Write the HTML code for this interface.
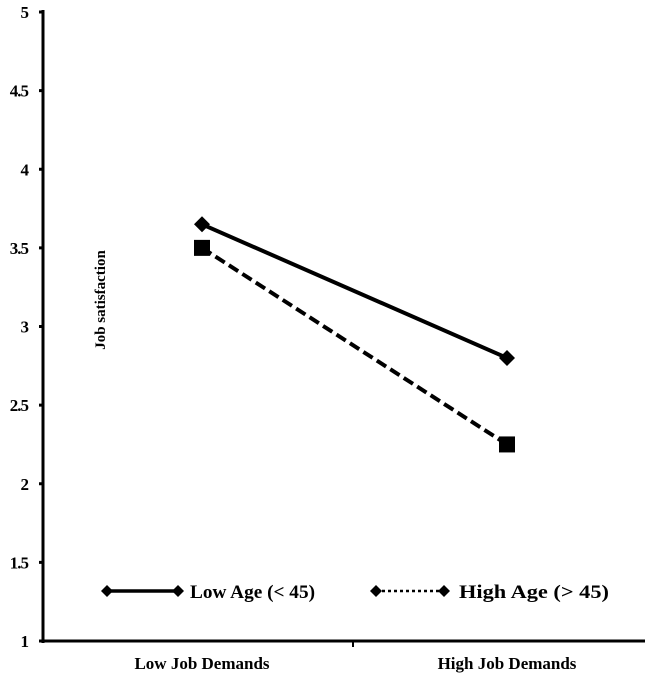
<!DOCTYPE html>
<html><head><meta charset="utf-8"><style>
body{margin:0;background:#fff}
svg{display:block;font-family:"Liberation Serif",serif;font-weight:bold}
</style></head><body>
<svg id="chart" width="645" height="684"></svg>
<script>
const categories=["Low Job Demands","High Job Demands"];
const lowAge=[3.65,2.8];
const highAge=[3.5,2.25];
const yTicks=[1,1.5,2,2.5,3,3.5,4,4.5,5];
const yTickLabels=["1","1.5","2","2.5","3","3.5","4","4.5","5"];
const NS="http://www.w3.org/2000/svg";
const svg=document.getElementById('chart');
const y=v=>641-(v-1)*157.25;
const xCat=[202,507];
const x=i=>xCat[i];
function mk(t,a,p){const e=document.createElementNS(NS,t);for(const k in a)e.setAttribute(k,a[k]);(p||svg).appendChild(e);return e;}
let e;
e=mk('line',{x1:43,y1:10,x2:43,y2:643,stroke:'#000','stroke-width':3});


e=mk('line',{x1:41,y1:641,x2:645,y2:641,stroke:'#000','stroke-width':3});


e=mk('line',{x1:353,y1:641,x2:353,y2:647,stroke:'#000','stroke-width':2});


yTicks.forEach((v,i)=>{
 e=mk('line',{x1:39,y1:y(v),x2:43,y2:y(v),stroke:'#000','stroke-width':3});
 
 
 e=mk('text',{x:28,y:y(v)+6,'text-anchor':'end','font-size':17,'letter-spacing':'-1'});
 e.textContent=yTickLabels[i];
 
 
});
categories.forEach((c,i)=>{
 e=mk('text',{x:x(i),y:669,'text-anchor':'middle','font-size':17});
 e.textContent=c;
 
 
});
e=mk('text',{x:0,y:0,'text-anchor':'middle','font-size':15,transform:'translate(105,300) rotate(-90)'});
e.textContent='Job satisfaction';


function diamond(cx,cy,r){return `${cx},${cy-r} ${cx+r},${cy} ${cx},${cy+r} ${cx-r},${cy}`;}
e=mk('line',{x1:x(0),y1:y(lowAge[0]),x2:x(1),y2:y(lowAge[1]),stroke:'#000','stroke-width':4});


lowAge.forEach((v,i)=>{
 e=mk('polygon',{points:diamond(x(i),y(v),8),fill:'#000'});
 
 
});
e=mk('line',{x1:x(0),y1:y(highAge[0]),x2:x(1),y2:y(highAge[1]),stroke:'#000','stroke-width':4,'stroke-dasharray':'11,5'});


highAge.forEach((v,i)=>{
 e=mk('rect',{x:x(i)-8,y:y(v)-8,width:16,height:16,fill:'#000'});
 
 
});
const g=mk('g',{});


mk('line',{x1:107,y1:591,x2:178,y2:591,stroke:'#000','stroke-width':3.5},g);
mk('polygon',{points:diamond(107,591,6),fill:'#000'},g);
mk('polygon',{points:diamond(178,591,6),fill:'#000'},g);
e=mk('text',{x:190,y:598,'font-size':19,textLength:125,lengthAdjust:'spacingAndGlyphs'},g);e.textContent='Low Age (< 45)';


mk('line',{x1:376,y1:591,x2:444,y2:591,stroke:'#000','stroke-width':2.5,'stroke-dasharray':'3,3'},g);
mk('polygon',{points:diamond(376,591,6),fill:'#000'},g);
mk('polygon',{points:diamond(444,591,6),fill:'#000'},g);
e=mk('text',{x:459,y:598,'font-size':19,textLength:150,lengthAdjust:'spacingAndGlyphs'},g);e.textContent='High Age (> 45)';


</script>
</body></html>
